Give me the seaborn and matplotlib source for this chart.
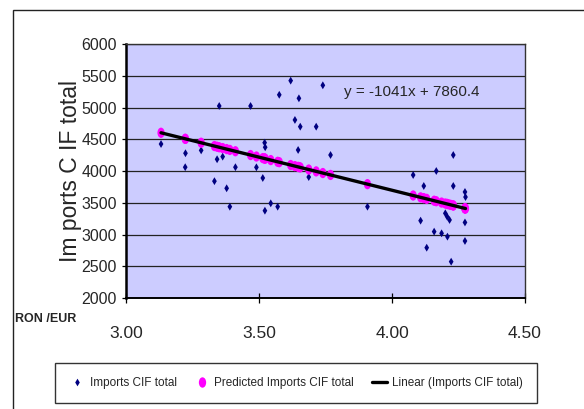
import numpy as np
import pandas as pd
import matplotlib
matplotlib.use("Agg")
import matplotlib.pyplot as plt
import seaborn as sns
from matplotlib.path import Path
from matplotlib.lines import Line2D
from matplotlib.patches import Rectangle

# ---------------- data ----------------
rate = [3.130, 3.222, 3.221, 3.281, 3.349, 3.467, 3.341, 3.362, 3.410, 3.520,
        3.522, 3.489, 3.513, 3.331, 3.377, 3.389, 3.521, 3.543, 3.569, 3.575,
        3.618, 3.649, 3.739, 3.634, 3.654, 3.714, 3.646, 3.768, 3.686, 3.907,
        4.079, 4.166, 4.119, 4.230, 4.274, 4.276, 4.200, 4.207, 4.216, 4.107,
        4.274, 4.158, 4.186, 4.208, 4.274, 4.130, 4.222, 4.230]
imports = [4425, 4280, 4060, 4325, 5024, 5024, 4185, 4226, 4060, 4446,
           4374, 4058, 3890, 3840, 3728, 3438, 3375, 3491, 3438, 5200,
           5423, 5145, 5350, 4804, 4698, 4698, 4331, 4252, 3905, 3438,
           3937, 4000, 3764, 3764, 3670, 3590, 3334, 3281, 3229, 3218,
           3190, 3045, 3019, 2966, 2898, 2792, 2572, 4252]
predicted = [4602, 4506, 4507, 4445, 4374, 4251, 4382, 4361, 4311, 4196,
             4194, 4228, 4203, 4393, 4345, 4332, 4195, 4172, 4145, 4139,
             4094, 4062, 3968, 4077, 4057, 3994, 4065, 3938, 4023, 3793,
             3614, 3524, 3573, 3457, 3411, 3409, 3488, 3481, 3471, 3585,
             3411, 3532, 3503, 3480, 3411, 3561, 3465, 3457]
trend_x = [3.130, 4.276]
trend_y = [4602, 3409]
x_ticks = [3.00, 3.50, 4.00, 4.50]
x_tick_labels = ["3.00", "3.50", "4.00", "4.50"]
y_ticks = [2000, 2500, 3000, 3500, 4000, 4500, 5000, 5500, 6000]
equation = "y = -1041x + 7860.4"
series_names = ["Imports CIF total", "Predicted Imports CIF total",
                "Linear (Imports CIF total)"]

df = pd.DataFrame({"rate": rate, "imports": imports, "predicted": predicted})
trend = pd.DataFrame({"x": trend_x, "y": trend_y})

# ---------------- style ----------------
sns.set_style("white")
plt.rcParams["font.family"] = ["Liberation Sans", "DejaVu Sans"]

BLUE = "#000080"
PINK = "#FF00FF"
BG = "#CCCCFF"

diamond = Path([(0, 1), (0.6, 0), (0, -1), (-0.6, 0), (0, 1)],
               [Path.MOVETO, Path.LINETO, Path.LINETO, Path.LINETO, Path.CLOSEPOLY])
circ = Path.unit_circle()
ellipse = Path(circ.vertices * np.array([0.7, 1.0]), circ.codes)

fig = plt.figure(figsize=(5.84, 4.09), dpi=100)
ax = fig.add_axes([0.2166, 0.2714, 0.6824, 0.621])
ax.set_facecolor(BG)

sns.scatterplot(data=df, x="rate", y="imports", ax=ax, marker=diamond, s=32,
                color=BLUE, edgecolor="none", linewidth=0, zorder=3)
sns.scatterplot(data=df, x="rate", y="predicted", ax=ax, marker=ellipse,
                s=55, color=PINK, edgecolor="none", linewidth=0, zorder=4)
sns.lineplot(data=trend, x="x", y="y", ax=ax, color="black", linewidth=2.4,
             zorder=5, errorbar=None)

ax.set_xlim(3.0, 4.5)
ax.set_ylim(2000, 6000)
ax.set_xticks(x_ticks)
ax.set_xticklabels(x_tick_labels)
ax.set_yticks(y_ticks)
ax.yaxis.grid(True, color="#222222", linewidth=0.9)
ax.set_axisbelow(True)

ax.tick_params(axis="y", direction="out", length=3, width=0.9, color="black",
               labelsize=11.5, pad=4, left=True)
ax.tick_params(axis="x", direction="inout", length=7, width=0.9, color="black",
               labelsize=12.5, pad=17, bottom=True)

for side, lw, col in [("left", 1.8, "black"), ("bottom", 1.4, "black"),
                      ("top", 1.0, "#333333"), ("right", 1.0, "#333333")]:
    ax.spines[side].set_visible(True)
    ax.spines[side].set_linewidth(lw)
    ax.spines[side].set_color(col)

ax.set_xlabel("")
ax.set_ylabel("Im ports C IF total", fontsize=16.5)
ax.yaxis.set_label_coords(-0.112, 0.5)

ax.text(0.7164, 0.811, equation, transform=ax.transAxes, ha="center",
        va="center", fontsize=11)

fig.text(15 / 584, 1 - 319 / 409, "RON /EUR", ha="left", va="center",
         fontsize=9, fontweight="bold")

handles = [
    Line2D([], [], linestyle="none", marker=diamond, markersize=5.5,
           markerfacecolor=BLUE, markeredgecolor="none"),
    Line2D([], [], linestyle="none", marker=ellipse, markersize=7.5,
           markerfacecolor=PINK, markeredgecolor="none"),
    Line2D([], [], color="black", linewidth=2.4),
]
leg = fig.legend(handles, series_names, loc="center",
                 bbox_to_anchor=(0.507, 1 - 383 / 409), ncol=3, fontsize=8.5,
                 frameon=True, fancybox=False, edgecolor="black",
                 handlelength=1.3, handletextpad=0.4, columnspacing=1.5,
                 borderpad=1.2, borderaxespad=0)
leg.get_frame().set_linewidth(1.0)

fig.add_artist(Rectangle((12.7 / 584, -0.2), 1.5, 0.2 + 1 - 10 / 409,
                         transform=fig.transFigure, fill=False,
                         edgecolor="#222222", linewidth=1.0))

fig.savefig("out.png", dpi=100)
